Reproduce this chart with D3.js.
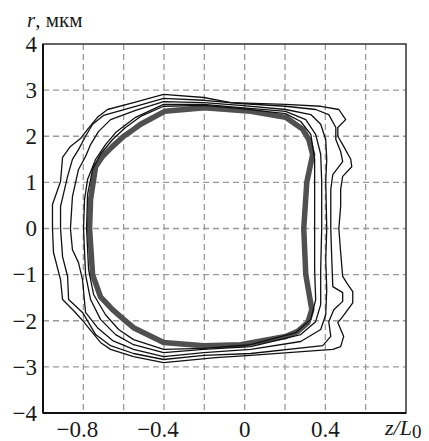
<!DOCTYPE html>
<html><head><meta charset="utf-8">
<script src="https://cdn.jsdelivr.net/npm/d3@7"></script>
<style>
html,body{margin:0;padding:0;background:#fff;}
svg{display:block;}
text{font-family:"Liberation Serif","Times New Roman",serif;fill:#1a1a1a;}
</style></head>
<body>
<svg id="chart" width="429" height="441"></svg>
<script>
// Tick values / labels
const zTicks = [-0.8, -0.4, 0, 0.4];
const rTicks = [-4, -3, -2, -1, 0, 1, 2, 3, 4];
const zGrid = [-0.8, -0.6, -0.4, -0.2, 0, 0.2, 0.4, 0.6];
const rGrid = [-3, -2, -1, 0, 1, 2, 3];

// Outermost thin contour
const c1Z = [-0.953,-0.953,-0.913,-0.903,-0.864,-0.814,-0.779,-0.730,-0.680,-0.551,-0.402,-0.203,-0.069,0.203,0.377,0.467,0.501,0.462,0.462,0.491,0.526,0.531,0.486,0.476,0.476,0.467,0.476,0.486,0.511,0.536,0.536,0.486,0.462,0.491,0.476,0.437,0.030,-0.144,-0.402,-0.551,-0.665,-0.715,-0.799,-0.844,-0.903,-0.913,-0.948];
const c1R = [0,0.52,1.02,1.54,1.78,1.95,2.15,2.41,2.58,2.73,2.91,2.84,2.73,2.69,2.65,2.58,2.36,2.19,2.00,1.78,1.50,1.34,1.13,0.85,0.48,0,-0.52,-1.04,-1.21,-1.37,-1.61,-1.91,-2.04,-2.34,-2.56,-2.62,-2.75,-2.80,-2.91,-2.78,-2.62,-2.47,-2.02,-1.80,-1.54,-1.11,-0.52];

const c2Z = [-0.913,-0.913,-0.878,-0.854,-0.824,-0.789,-0.754,-0.700,-0.541,-0.402,-0.203,-0.020,0.203,0.352,0.417,0.452,0.452,0.476,0.486,0.437,0.427,0.427,0.432,0.437,0.486,0.486,0.442,0.417,0.427,0.387,0.030,-0.203,-0.402,-0.551,-0.665,-0.739,-0.804,-0.873,-0.878,-0.903];
const c2R = [0,0.48,1.13,1.50,1.71,2.00,2.26,2.45,2.65,2.82,2.78,2.71,2.65,2.58,2.47,2.19,1.93,1.67,1.45,1.17,0.85,0,-0.67,-1.26,-1.39,-1.58,-1.76,-2.02,-2.34,-2.54,-2.71,-2.75,-2.84,-2.71,-2.54,-2.30,-1.82,-1.54,-1.04,-0.61];

const c3Z = [-0.864,-0.854,-0.824,-0.789,-0.764,-0.725,-0.665,-0.541,-0.402,-0.203,-0.020,0.203,0.328,0.377,0.402,0.407,0.402,0.407,0.402,0.407,0.402,0.377,0.278,0.030,-0.203,-0.402,-0.551,-0.655,-0.730,-0.789,-0.804,-0.824,-0.854];
const c3R = [0,0.69,1.28,1.56,1.82,2.10,2.36,2.56,2.75,2.73,2.67,2.58,2.47,2.26,1.93,1.50,1.02,0,-0.67,-1.32,-1.87,-2.19,-2.45,-2.62,-2.69,-2.78,-2.62,-2.43,-2.15,-1.82,-1.11,-0.74,-0.46];

const c4Z = [-0.799,-0.794,-0.779,-0.739,-0.690,-0.640,-0.541,-0.402,-0.203,-0.020,0.203,0.303,0.352,0.377,0.382,0.382,0.377,0.377,0.352,0.278,0.030,-0.203,-0.402,-0.551,-0.640,-0.715,-0.764,-0.789];
const c4R = [0,0.63,1.06,1.50,1.82,2.08,2.41,2.69,2.69,2.62,2.54,2.36,2.04,1.61,1.02,0,-0.89,-1.65,-2.02,-2.30,-2.56,-2.62,-2.69,-2.52,-2.30,-1.97,-1.54,-1.00];

const c5Z = [-0.784,-0.779,-0.754,-0.715,-0.655,-0.591,-0.516,-0.402,-0.203,-0.020,0.203,0.278,0.328,0.347,0.347,0.347,0.347,0.352,0.328,0.253,0.030,-0.203,-0.402,-0.551,-0.625,-0.690,-0.749,-0.774];
const c5R = [0,0.74,1.28,1.61,1.93,2.19,2.43,2.65,2.67,2.60,2.49,2.32,2.04,1.50,0.85,0,-0.89,-1.54,-1.97,-2.26,-2.52,-2.60,-2.62,-2.41,-2.19,-1.87,-1.43,-0.89];

// Thick grey (innermost) contour
const gZ = [-0.769,-0.764,-0.739,-0.705,-0.655,-0.600,-0.566,-0.516,-0.397,-0.199,0.030,0.203,0.288,0.318,0.337,0.308,0.293,0.303,0.333,0.313,0.263,0.203,-0.020,-0.203,-0.402,-0.551,-0.600,-0.655,-0.715,-0.754];
const gR = [0,0.63,1.34,1.56,1.78,2.00,2.10,2.26,2.54,2.62,2.54,2.41,2.15,1.93,1.60,1.00,0,-1.00,-1.76,-2.04,-2.23,-2.34,-2.52,-2.54,-2.47,-2.15,-1.97,-1.76,-1.48,-1.00];

const thinCurves = [[c1Z,c1R],[c2Z,c2R],[c3Z,c3R],[c4Z,c4R],[c5Z,c5R]];

const svg = d3.select('#chart');
const m = {left:43, top:44, right:23, bottom:28};
const W = 429, H = 441;
const x = d3.scaleLinear().domain([-1.0, 0.8]).range([m.left, W - m.right]);
const y = d3.scaleLinear().domain([-4, 4]).range([H - m.bottom, m.top]);

svg.append('defs').append('clipPath').attr('id','clip')
  .append('rect').attr('x', x(-1)).attr('y', y(4)).attr('width', x(0.8)-x(-1)).attr('height', y(-4)-y(4));

// grid
const grid = svg.append('g');
grid.selectAll('line.v').data(zGrid).join('line')
  .attr('x1', d=>x(d)).attr('x2', d=>x(d)).attr('y1', y(4)).attr('y2', y(-4))
  .attr('stroke','#9a9a9a').attr('stroke-width',1.3).attr('stroke-dasharray','6,4');
grid.selectAll('line.h').data(rGrid).join('line')
  .attr('y1', d=>y(d)).attr('y2', d=>y(d)).attr('x1', x(-1)).attr('x2', x(0.8))
  .attr('stroke','#9a9a9a').attr('stroke-width',1.3).attr('stroke-dasharray','6,4');

const line = d3.line().x(d=>x(d[0])).y(d=>y(d[1])).curve(d3.curveLinearClosed);
const plot = svg.append('g').attr('clip-path','url(#clip)');

plot.append('path')
  .attr('d', line(gZ.map((z,i)=>[z,gR[i]])))
  .attr('fill','none').attr('stroke','#505050').attr('stroke-width',5.5)
  .attr('stroke-linejoin','round');

thinCurves.forEach(([zs, rs]) => {
  plot.append('path')
    .attr('d', line(zs.map((z,i)=>[z, rs[i]])))
    .attr('fill','none').attr('stroke','#111').attr('stroke-width',1.3)
    .attr('stroke-linejoin','round');
});

// frame
svg.append('rect').attr('x', x(-1)).attr('y', y(4)).attr('width', x(0.8)-x(-1)).attr('height', y(-4)-y(4))
  .attr('fill','none').attr('stroke','#333').attr('stroke-width',1.5);
svg.append('line').attr('x1',x(-1)).attr('x2',x(-1)).attr('y1',y(4)).attr('y2',y(-4)).attr('stroke','#111').attr('stroke-width',2);
svg.append('line').attr('x1',x(-1)).attr('x2',x(0.8)).attr('y1',y(-4)).attr('y2',y(-4)).attr('stroke','#111').attr('stroke-width',2);

const fmt = v => (v < 0 ? '\u2212' : '') + Math.abs(v).toString().replace(/^0\./,'0.');
// y tick labels
svg.selectAll('text.yt').data(rTicks).join('text')
  .attr('x', 37).attr('y', d=>y(d)).attr('dy','0.34em')
  .attr('text-anchor','end').attr('font-size',23)
  .text(d=>fmt(d));
// x tick labels
svg.selectAll('text.xt').data(zTicks).join('text')
  .attr('x', d=>x(d) + (d<0 ? -6 : 0)).attr('y', 437)
  .attr('text-anchor','middle').attr('font-size',23)
  .text(d=>fmt(d));

// axis titles
const xt = svg.append('text').attr('x', 385).attr('y', 435).attr('font-size',22);
xt.append('tspan').attr('font-style','italic').text('z/L');
xt.append('tspan').attr('dy',3).attr('font-size',19).text('0');

const yt = svg.append('text').attr('x', 27).attr('y', 27).attr('font-size',21);
yt.append('tspan').attr('font-style','italic').text('r');
yt.append('tspan').text(', мкм');
</script>
</body></html>
